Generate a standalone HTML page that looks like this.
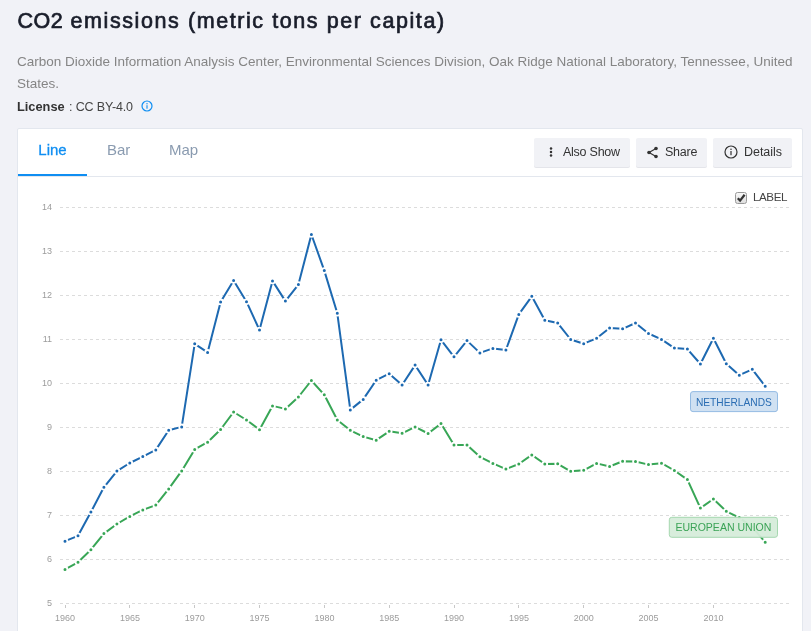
<!DOCTYPE html>
<html><head><meta charset="utf-8"><title>CO2 emissions (metric tons per capita)</title>
<style>
html,body{margin:0;padding:0}
body{width:811px;height:631px;overflow:hidden;background:#f1f2f7;font-family:"Liberation Sans",sans-serif;position:relative;color:#333}
h1{position:absolute;left:17.6px;top:6px;margin:0;font-size:21.5px;line-height:30px;font-weight:normal;-webkit-text-stroke:0.7px #1a1e2b;color:#1a1e2b;white-space:nowrap;letter-spacing:1.58px}
h1 span{letter-spacing:0.4px}
.src{position:absolute;left:17px;top:51px;width:790px;margin:0;font-size:13.5px;line-height:22px;color:#858585}
.lic{position:absolute;left:17px;top:96px;margin:0;font-size:13px;line-height:22px;color:#444;white-space:nowrap}
.lic b{color:#333;font-size:12.8px}
.lic span{font-size:12.5px;letter-spacing:-0.15px;margin-left:1px}
.info{position:absolute;left:140.6px;top:99.6px}
.panel{position:absolute;left:17px;top:128px;width:786px;height:520px;background:#fff;border:1px solid #e3e7ee;border-radius:2px;box-sizing:border-box}
.tabs{position:absolute;left:0;top:0;right:0;height:47px;border-bottom:1px solid #e3e7ee}
.tab{position:absolute;top:0;height:47px;line-height:41px;font-size:15px;color:#8a9bb0}
.tab.on{color:#0f8ef2;left:0;width:69px;text-align:center;box-shadow:inset 0 -2px 0 #0f8ef2;height:47px;-webkit-text-stroke:0.3px #0f8ef2}
.btn{position:absolute;top:9px;height:29px;background:#f1f2f6;border-radius:2px;box-shadow:0 1px 0 #e4e5ea;font-size:12.5px;letter-spacing:-0.25px;line-height:28px;color:#333;white-space:nowrap}
.btn span{position:absolute;top:0}
.chart{position:absolute;left:0;top:0}
.cb{position:absolute;left:735px;top:192px;width:10px;height:10px;border:1px solid #999;border-radius:2.5px;background:linear-gradient(#f8f8f8,#dedede);box-sizing:content-box}
.lbl{position:absolute;left:753px;top:189.2px;font-size:11.6px;letter-spacing:-0.42px;line-height:16px;color:#444}
</style></head><body>
<h1><span>CO2</span> emissions (metric tons per capita)</h1>
<p class="src">Carbon Dioxide Information Analysis Center, Environmental Sciences Division, Oak Ridge National Laboratory, Tennessee, United States.</p>
<p class="lic"><b>License</b><span> : CC BY-4.0</span></p>
<svg class="info" width="12" height="12" viewBox="0 0 12 12"><circle cx="6" cy="6" r="5" fill="none" stroke="#0f8ef2" stroke-width="1.2"/><rect x="5.45" y="5.2" width="1.1" height="3.5" fill="#0f8ef2"/><rect x="5.4" y="3.1" width="1.2" height="1.2" fill="#0f8ef2"/></svg>
<div class="panel">
<div class="tabs">
<div class="tab on">Line</div>
<div class="tab" style="left:89px">Bar</div>
<div class="tab" style="left:151px">Map</div>
<div class="btn" style="left:516px;width:96px"><svg style="position:absolute;left:14.8px;top:8px" width="4" height="12" viewBox="0 0 4 12"><circle cx="2" cy="2.4" r="1.25" fill="#333"/><circle cx="2" cy="5.9" r="1.25" fill="#333"/><circle cx="2" cy="9.4" r="1.25" fill="#333"/></svg><span style="left:29px">Also Show</span></div>
<div class="btn" style="left:618px;width:71px"><svg style="position:absolute;left:10.3px;top:7.5px" width="13" height="13" viewBox="0 0 13 13"><path d="M10 2.5 L3 6.5 L10 10.5" fill="none" stroke="#333" stroke-width="1.2"/><circle cx="10" cy="2.5" r="1.8" fill="#333"/><circle cx="3" cy="6.5" r="1.8" fill="#333"/><circle cx="10" cy="10.5" r="1.8" fill="#333"/></svg><span style="left:29px">Share</span></div>
<div class="btn" style="left:695px;width:79px"><svg style="position:absolute;left:11px;top:7.4px" width="14" height="14" viewBox="0 0 14 14"><circle cx="7" cy="7" r="6" fill="none" stroke="#333" stroke-width="1.2"/><rect x="6.4" y="6" width="1.2" height="4.2" fill="#333"/><rect x="6.4" y="3.6" width="1.2" height="1.4" fill="#333"/></svg><span style="left:31px;letter-spacing:-0.05px">Details</span></div>
</div>
</div>
<svg class="chart" width="811" height="631" viewBox="0 0 811 631">
<g stroke="#dcdcdc" stroke-width="1" stroke-dasharray="3 3" shape-rendering="crispEdges"><line x1="60" x2="789" y1="603.5" y2="603.5"/><line x1="60" x2="789" y1="559.5" y2="559.5"/><line x1="60" x2="789" y1="515.5" y2="515.5"/><line x1="60" x2="789" y1="471.5" y2="471.5"/><line x1="60" x2="789" y1="427.5" y2="427.5"/><line x1="60" x2="789" y1="383.5" y2="383.5"/><line x1="60" x2="789" y1="339.5" y2="339.5"/><line x1="60" x2="789" y1="295.5" y2="295.5"/><line x1="60" x2="789" y1="251.5" y2="251.5"/><line x1="60" x2="789" y1="207.5" y2="207.5"/></g>
<g stroke="#c8c8c8" stroke-width="1" shape-rendering="crispEdges"><line x1="65.5" x2="65.5" y1="605" y2="608"/><line x1="129.5" x2="129.5" y1="605" y2="608"/><line x1="194.5" x2="194.5" y1="605" y2="608"/><line x1="259.5" x2="259.5" y1="605" y2="608"/><line x1="324.5" x2="324.5" y1="605" y2="608"/><line x1="389.5" x2="389.5" y1="605" y2="608"/><line x1="454.5" x2="454.5" y1="605" y2="608"/><line x1="518.5" x2="518.5" y1="605" y2="608"/><line x1="583.5" x2="583.5" y1="605" y2="608"/><line x1="648.5" x2="648.5" y1="605" y2="608"/><line x1="713.5" x2="713.5" y1="605" y2="608"/></g>
<g font-family="Liberation Sans, sans-serif" font-size="9" fill="#9c9c9c"><text x="52" y="606.0" text-anchor="end">5</text><text x="52" y="562.0" text-anchor="end">6</text><text x="52" y="518.0" text-anchor="end">7</text><text x="52" y="474.0" text-anchor="end">8</text><text x="52" y="430.0" text-anchor="end">9</text><text x="52" y="386.0" text-anchor="end">10</text><text x="52" y="342.0" text-anchor="end">11</text><text x="52" y="298.0" text-anchor="end">12</text><text x="52" y="254.0" text-anchor="end">13</text><text x="52" y="210.0" text-anchor="end">14</text><text x="65.1" y="621" text-anchor="middle">1960</text><text x="129.9" y="621" text-anchor="middle">1965</text><text x="194.8" y="621" text-anchor="middle">1970</text><text x="259.6" y="621" text-anchor="middle">1975</text><text x="324.4" y="621" text-anchor="middle">1980</text><text x="389.3" y="621" text-anchor="middle">1985</text><text x="454.1" y="621" text-anchor="middle">1990</text><text x="518.9" y="621" text-anchor="middle">1995</text><text x="583.8" y="621" text-anchor="middle">2000</text><text x="648.6" y="621" text-anchor="middle">2005</text><text x="713.5" y="621" text-anchor="middle">2010</text></g>
<path d="M65.0 541.2 L78.0 535.8 L90.9 512.1 L103.9 487.3 L116.9 471.1 L129.8 463.0 L142.8 456.6 L155.8 449.9 L168.7 430.3 L181.7 426.9 L194.7 343.8 L207.6 352.4 L220.6 301.9 L233.6 280.5 L246.5 301.7 L259.5 330.0 L272.5 280.9 L285.4 301.1 L298.4 284.6 L311.4 234.5 L324.3 270.6 L337.3 313.3 L350.3 409.9 L363.2 399.4 L376.2 380.2 L389.2 373.7 L402.1 385.0 L415.1 365.1 L428.1 385.0 L441.0 339.8 L454.0 356.8 L467.0 340.6 L479.9 352.9 L492.9 348.4 L505.9 350.0 L518.8 314.4 L531.8 296.3 L544.8 320.3 L557.7 323.1 L570.7 339.5 L583.7 343.7 L596.6 338.3 L609.6 328.0 L622.6 328.8 L635.5 323.0 L648.5 333.5 L661.5 339.4 L674.4 348.1 L687.4 349.1 L700.4 364.0 L713.4 338.2 L726.3 363.8 L739.3 375.2 L752.3 369.3 L765.2 386.3" fill="none" stroke="#1d69b1" stroke-width="2" stroke-linejoin="round"/>
<g fill="#1d69b1" stroke="#fff" stroke-width="1.8"><circle cx="65.0" cy="541.2" r="2.4"/><circle cx="78.0" cy="535.8" r="2.4"/><circle cx="90.9" cy="512.1" r="2.4"/><circle cx="103.9" cy="487.3" r="2.4"/><circle cx="116.9" cy="471.1" r="2.4"/><circle cx="129.8" cy="463.0" r="2.4"/><circle cx="142.8" cy="456.6" r="2.4"/><circle cx="155.8" cy="449.9" r="2.4"/><circle cx="168.7" cy="430.3" r="2.4"/><circle cx="181.7" cy="426.9" r="2.4"/><circle cx="194.7" cy="343.8" r="2.4"/><circle cx="207.6" cy="352.4" r="2.4"/><circle cx="220.6" cy="301.9" r="2.4"/><circle cx="233.6" cy="280.5" r="2.4"/><circle cx="246.5" cy="301.7" r="2.4"/><circle cx="259.5" cy="330.0" r="2.4"/><circle cx="272.5" cy="280.9" r="2.4"/><circle cx="285.4" cy="301.1" r="2.4"/><circle cx="298.4" cy="284.6" r="2.4"/><circle cx="311.4" cy="234.5" r="2.4"/><circle cx="324.3" cy="270.6" r="2.4"/><circle cx="337.3" cy="313.3" r="2.4"/><circle cx="350.3" cy="409.9" r="2.4"/><circle cx="363.2" cy="399.4" r="2.4"/><circle cx="376.2" cy="380.2" r="2.4"/><circle cx="389.2" cy="373.7" r="2.4"/><circle cx="402.1" cy="385.0" r="2.4"/><circle cx="415.1" cy="365.1" r="2.4"/><circle cx="428.1" cy="385.0" r="2.4"/><circle cx="441.0" cy="339.8" r="2.4"/><circle cx="454.0" cy="356.8" r="2.4"/><circle cx="467.0" cy="340.6" r="2.4"/><circle cx="479.9" cy="352.9" r="2.4"/><circle cx="492.9" cy="348.4" r="2.4"/><circle cx="505.9" cy="350.0" r="2.4"/><circle cx="518.8" cy="314.4" r="2.4"/><circle cx="531.8" cy="296.3" r="2.4"/><circle cx="544.8" cy="320.3" r="2.4"/><circle cx="557.7" cy="323.1" r="2.4"/><circle cx="570.7" cy="339.5" r="2.4"/><circle cx="583.7" cy="343.7" r="2.4"/><circle cx="596.6" cy="338.3" r="2.4"/><circle cx="609.6" cy="328.0" r="2.4"/><circle cx="622.6" cy="328.8" r="2.4"/><circle cx="635.5" cy="323.0" r="2.4"/><circle cx="648.5" cy="333.5" r="2.4"/><circle cx="661.5" cy="339.4" r="2.4"/><circle cx="674.4" cy="348.1" r="2.4"/><circle cx="687.4" cy="349.1" r="2.4"/><circle cx="700.4" cy="364.0" r="2.4"/><circle cx="713.4" cy="338.2" r="2.4"/><circle cx="726.3" cy="363.8" r="2.4"/><circle cx="739.3" cy="375.2" r="2.4"/><circle cx="752.3" cy="369.3" r="2.4"/><circle cx="765.2" cy="386.3" r="2.4"/></g>

<path d="M65.0 569.4 L78.0 562.3 L90.9 549.7 L103.9 533.6 L116.9 524.0 L129.8 516.4 L142.8 509.9 L155.8 505.1 L168.7 488.9 L181.7 470.9 L194.7 449.4 L207.6 442.2 L220.6 429.5 L233.6 412.0 L246.5 420.0 L259.5 429.7 L272.5 405.9 L285.4 408.9 L298.4 397.0 L311.4 380.5 L324.3 394.8 L337.3 420.0 L350.3 430.3 L363.2 436.6 L376.2 440.2 L389.2 431.3 L402.1 433.3 L415.1 426.9 L428.1 433.5 L441.0 423.6 L454.0 445.1 L467.0 445.0 L479.9 456.8 L492.9 463.4 L505.9 469.1 L518.8 464.0 L531.8 454.9 L544.8 464.0 L557.7 463.8 L570.7 471.3 L583.7 470.3 L596.6 463.4 L609.6 466.5 L622.6 461.2 L635.5 461.5 L648.5 464.6 L661.5 463.2 L674.4 470.5 L687.4 479.6 L700.4 508.1 L713.4 499.0 L726.3 511.3 L739.3 517.6 L752.3 527.1 L765.2 542.2" fill="none" stroke="#38a656" stroke-width="2" stroke-linejoin="round"/>
<g fill="#38a656" stroke="#fff" stroke-width="1.8"><circle cx="65.0" cy="569.4" r="2.4"/><circle cx="78.0" cy="562.3" r="2.4"/><circle cx="90.9" cy="549.7" r="2.4"/><circle cx="103.9" cy="533.6" r="2.4"/><circle cx="116.9" cy="524.0" r="2.4"/><circle cx="129.8" cy="516.4" r="2.4"/><circle cx="142.8" cy="509.9" r="2.4"/><circle cx="155.8" cy="505.1" r="2.4"/><circle cx="168.7" cy="488.9" r="2.4"/><circle cx="181.7" cy="470.9" r="2.4"/><circle cx="194.7" cy="449.4" r="2.4"/><circle cx="207.6" cy="442.2" r="2.4"/><circle cx="220.6" cy="429.5" r="2.4"/><circle cx="233.6" cy="412.0" r="2.4"/><circle cx="246.5" cy="420.0" r="2.4"/><circle cx="259.5" cy="429.7" r="2.4"/><circle cx="272.5" cy="405.9" r="2.4"/><circle cx="285.4" cy="408.9" r="2.4"/><circle cx="298.4" cy="397.0" r="2.4"/><circle cx="311.4" cy="380.5" r="2.4"/><circle cx="324.3" cy="394.8" r="2.4"/><circle cx="337.3" cy="420.0" r="2.4"/><circle cx="350.3" cy="430.3" r="2.4"/><circle cx="363.2" cy="436.6" r="2.4"/><circle cx="376.2" cy="440.2" r="2.4"/><circle cx="389.2" cy="431.3" r="2.4"/><circle cx="402.1" cy="433.3" r="2.4"/><circle cx="415.1" cy="426.9" r="2.4"/><circle cx="428.1" cy="433.5" r="2.4"/><circle cx="441.0" cy="423.6" r="2.4"/><circle cx="454.0" cy="445.1" r="2.4"/><circle cx="467.0" cy="445.0" r="2.4"/><circle cx="479.9" cy="456.8" r="2.4"/><circle cx="492.9" cy="463.4" r="2.4"/><circle cx="505.9" cy="469.1" r="2.4"/><circle cx="518.8" cy="464.0" r="2.4"/><circle cx="531.8" cy="454.9" r="2.4"/><circle cx="544.8" cy="464.0" r="2.4"/><circle cx="557.7" cy="463.8" r="2.4"/><circle cx="570.7" cy="471.3" r="2.4"/><circle cx="583.7" cy="470.3" r="2.4"/><circle cx="596.6" cy="463.4" r="2.4"/><circle cx="609.6" cy="466.5" r="2.4"/><circle cx="622.6" cy="461.2" r="2.4"/><circle cx="635.5" cy="461.5" r="2.4"/><circle cx="648.5" cy="464.6" r="2.4"/><circle cx="661.5" cy="463.2" r="2.4"/><circle cx="674.4" cy="470.5" r="2.4"/><circle cx="687.4" cy="479.6" r="2.4"/><circle cx="700.4" cy="508.1" r="2.4"/><circle cx="713.4" cy="499.0" r="2.4"/><circle cx="726.3" cy="511.3" r="2.4"/><circle cx="739.3" cy="517.6" r="2.4"/><circle cx="752.3" cy="527.1" r="2.4"/><circle cx="765.2" cy="542.2" r="2.4"/></g>

<g font-family="Liberation Sans, sans-serif" font-size="10.8">
<rect x="690.5" y="391.6" width="87" height="20" rx="2.5" fill="#cddff1" fill-opacity="0.94" stroke="#94bbe3"/>
<text x="733.9" y="405.7" text-anchor="middle" fill="#2a6db3" textLength="76" lengthAdjust="spacingAndGlyphs">NETHERLANDS</text>
<rect x="669.3" y="517.3" width="108.2" height="20" rx="2.5" fill="#d6ecda" fill-opacity="0.94" stroke="#a6d8b0"/>
<text x="723.4" y="530.8" text-anchor="middle" fill="#3aa356" textLength="96" lengthAdjust="spacingAndGlyphs">EUROPEAN UNION</text>
</g>
</svg>
<div class="cb"><svg width="10" height="10" viewBox="0 0 10 10" style="position:absolute;left:0;top:0"><path d="M1.8 5.2 L4.1 7.6 L8.6 1.8" fill="none" stroke="#333" stroke-width="2.3"/></svg></div>
<div class="lbl">LABEL</div>
</body></html>
